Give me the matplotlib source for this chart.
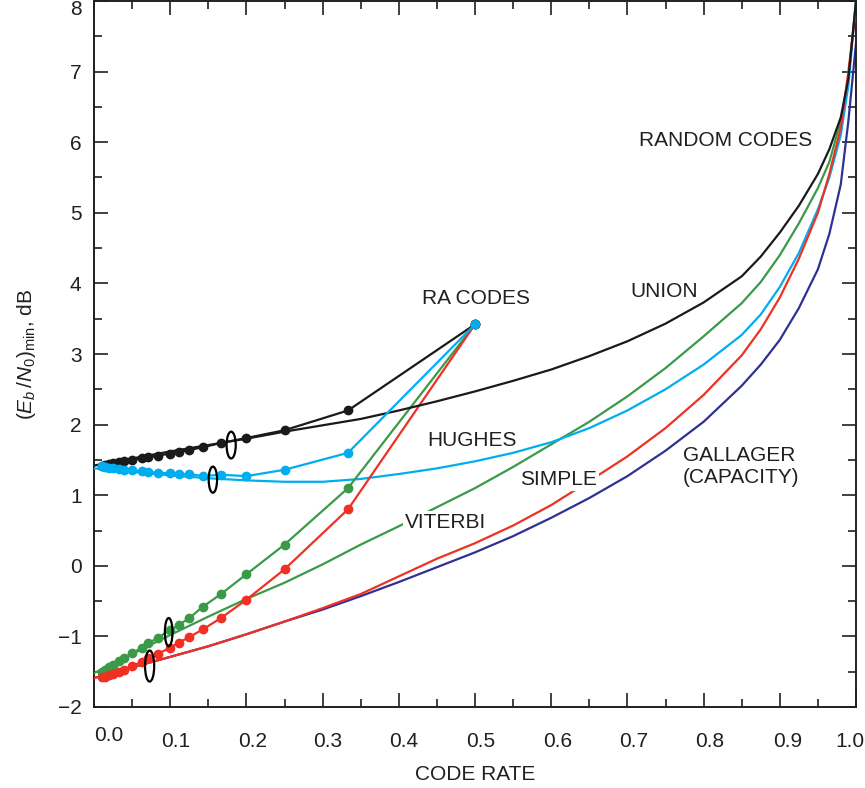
import matplotlib
matplotlib.use("Agg")
import matplotlib.pyplot as plt
from matplotlib import font_manager
from matplotlib.patches import Ellipse
from matplotlib.transforms import ScaledTranslation

# pick fonts that are on the machine
names = {f.name for f in font_manager.fontManager.ttflist}
sans = "Liberation Sans" if "Liberation Sans" in names else "DejaVu Sans"
narrow = "Liberation Sans Narrow" if "Liberation Sans Narrow" in names else sans

plt.rcParams["font.family"] = [sans, "DejaVu Sans"]
plt.rcParams["mathtext.fontset"] = "custom"
plt.rcParams["mathtext.rm"] = sans
plt.rcParams["mathtext.it"] = sans + ":italic"

INK = "#231f20"
BLACK = "#1a1a1a"
CYAN = "#00aeef"
GREEN = "#3a9a48"
RED = "#ee3124"
NAVY = "#2e3192"

# threshold curves: minimum Eb/N0 (dB) vs code rate
rate = [0.0, 0.05, 0.1, 0.15, 0.2, 0.25, 0.3, 0.35, 0.4, 0.45, 0.5, 0.55, 0.6,
        0.65, 0.7, 0.75, 0.8, 0.85, 0.875, 0.9, 0.925, 0.95, 0.965, 0.98, 0.99, 1.0]
union = [1.42, 1.52, 1.62, 1.71, 1.80, 1.90, 1.99, 2.08, 2.20, 2.33, 2.47, 2.62, 2.78,
         2.97, 3.18, 3.43, 3.73, 4.10, 4.38, 4.72, 5.10, 5.55, 5.90, 6.35, 6.90, 8.0]
hughes = [1.38, 1.33, 1.28, 1.24, 1.21, 1.19, 1.19, 1.23, 1.30, 1.38, 1.48, 1.60, 1.75,
          1.95, 2.20, 2.50, 2.85, 3.27, 3.56, 3.95, 4.43, 5.05, 5.50, 6.10, 6.80, 8.0]
viterbi = [-1.52, -1.25, -0.98, -0.72, -0.47, -0.24, 0.02, 0.30, 0.56, 0.83, 1.10, 1.40, 1.72,
           2.04, 2.40, 2.80, 3.25, 3.72, 4.02, 4.40, 4.85, 5.35, 5.72, 6.30, 6.90, 8.0]
simple = [-1.59, -1.44, -1.29, -1.14, -0.97, -0.79, -0.60, -0.40, -0.15, 0.10, 0.32, 0.57, 0.86,
          1.20, 1.55, 1.95, 2.42, 2.98, 3.35, 3.80, 4.35, 5.00, 5.55, 6.20, 7.00, 7.9]
gallager = [-1.59, -1.44, -1.29, -1.14, -0.97, -0.79, -0.62, -0.43, -0.23, -0.02, 0.19, 0.42, 0.68,
            0.96, 1.27, 1.63, 2.04, 2.55, 2.85, 3.20, 3.65, 4.20, 4.70, 5.40, 6.30, 7.4]

# RA codes, rate 1/q
ra_q = [2, 3, 4, 5, 6, 7, 8, 9, 10, 12, 14, 16, 20, 25, 30, 40, 50, 70, 100]
ra_union = [3.42, 2.20, 1.92, 1.81, 1.74, 1.68, 1.64, 1.61, 1.59, 1.56, 1.54, 1.52, 1.50,
            1.48, 1.47, 1.45, 1.44, 1.43, 1.42]
ra_hughes = [3.42, 1.60, 1.36, 1.27, 1.29, 1.27, 1.30, 1.30, 1.31, 1.32, 1.33, 1.34, 1.35,
             1.36, 1.37, 1.38, 1.39, 1.40, 1.41]
ra_viterbi = [3.42, 1.10, 0.30, -0.12, -0.40, -0.58, -0.74, -0.84, -0.91, -1.02, -1.10, -1.16,
              -1.24, -1.30, -1.35, -1.40, -1.43, -1.47, -1.50]
ra_simple = [3.42, 0.80, -0.05, -0.48, -0.74, -0.90, -1.01, -1.09, -1.16, -1.25, -1.31, -1.36,
             -1.42, -1.47, -1.50, -1.53, -1.55, -1.57, -1.58]
ra_rate = [1.0 / q for q in ra_q]

# grouping ellipses (x, y, width, height) in data units
rings = [(0.180, 1.71, 0.012, 0.38), (0.156, 1.22, 0.011, 0.37),
         (0.098, -0.94, 0.010, 0.40), (0.073, -1.42, 0.012, 0.44)]

fig = plt.figure(figsize=(8.65, 7.88), dpi=100)
ax = fig.add_axes([94 / 865, 1 - 707 / 788, 762 / 865, 706 / 788])

lw = 1.6
ax.plot(rate, gallager, color=NAVY, lw=lw, zorder=2)
ax.plot(rate, viterbi, color=GREEN, lw=lw, zorder=3)
ax.plot(rate, hughes, color=CYAN, lw=lw, zorder=3)
ax.plot(rate, simple, color=RED, lw=lw, zorder=4)
ax.plot(rate, union, color=BLACK, lw=lw, zorder=5)

ms = 6
ax.plot(ra_rate, ra_viterbi, color=GREEN, lw=lw, marker="o", ms=ms, zorder=3)
ax.plot(ra_rate, ra_simple, color=RED, lw=lw, marker="o", ms=ms, zorder=4)
ax.plot(ra_rate, ra_union, color=BLACK, lw=lw, marker="o", ms=ms, zorder=5)
ax.plot(ra_rate, ra_hughes, color=CYAN, lw=lw, marker="o", ms=ms, zorder=6)

for x, y, w, h in rings:
    ax.add_patch(Ellipse((x, y), w, h, fill=False, ec="black", lw=1.6, zorder=7))

ax.set_xlim(0, 1)
ax.set_ylim(-2, 8)
ax.set_xticks([i / 10 for i in range(11)])
ax.set_xticks([0.05 + i / 10 for i in range(10)], minor=True)
ax.set_yticks(range(-2, 9))
ax.set_yticks([-1.5 + i for i in range(10)], minor=True)
ax.set_xticklabels(["0.0", "0.1", "0.2", "0.3", "0.4", "0.5", "0.6", "0.7", "0.8", "0.9", "1.0"],
                   fontsize=15, family=narrow, color=INK)
ax.set_yticklabels(["\u22122", "\u22121", "0", "1", "2", "3", "4", "5", "6", "7", "8"],
                   fontsize=15, color=INK)
ax.tick_params(which="both", direction="in", top=True, right=True, colors=INK, width=1.2)
ax.tick_params(which="major", length=10)
ax.tick_params(which="minor", length=6)
ax.tick_params(axis="x", pad=18)
ax.tick_params(axis="y", pad=9)
for s in ax.spines.values():
    s.set_linewidth(1.4)
    s.set_color(INK)

# nudge tick labels like the original typesetting (pixels)
xshift = [(15, 6), (5, 0), (6, 0), (5, 0), (5, 0), (6, 0), (6, 0), (6, 0), (6, 0), (8, 0), (-6, 0)]
for lab, (dx, dy) in zip(ax.get_xticklabels(), xshift):
    lab.set_transform(lab.get_transform() + ScaledTranslation(dx / 100, dy / 100, fig.dpi_scale_trans))
top = ax.get_yticklabels()[-1]
top.set_transform(top.get_transform() + ScaledTranslation(0, -7 / 100, fig.dpi_scale_trans))

ax.set_xlabel("CODE RATE", fontsize=15, family=narrow, color=INK, labelpad=10)
ax.set_ylabel(r"$(E_b\,/N_0)_{\mathrm{min}}$, dB", fontsize=15, color=INK, labelpad=14)

tkw = dict(fontsize=15, color=INK, ha="center", va="center", zorder=8)
box = dict(fc="white", ec="none", pad=1)
ax.text(0.829, 6.02, "RANDOM CODES", **tkw)
ax.text(0.748, 3.89, "UNION", **tkw)
ax.text(0.501, 3.79, "RA CODES", **tkw)
ax.text(0.496, 1.78, "HUGHES", **tkw)
ax.text(0.610, 1.22, "SIMPLE", bbox=box, **tkw)
ax.text(0.461, 0.62, "VITERBI", bbox=box, **tkw)
ax.text(0.773, 1.40, "GALLAGER\n(CAPACITY)", fontsize=15, color=INK, ha="left",
        va="center", linespacing=1.2, zorder=8)

fig.savefig("out.png", dpi=100)
